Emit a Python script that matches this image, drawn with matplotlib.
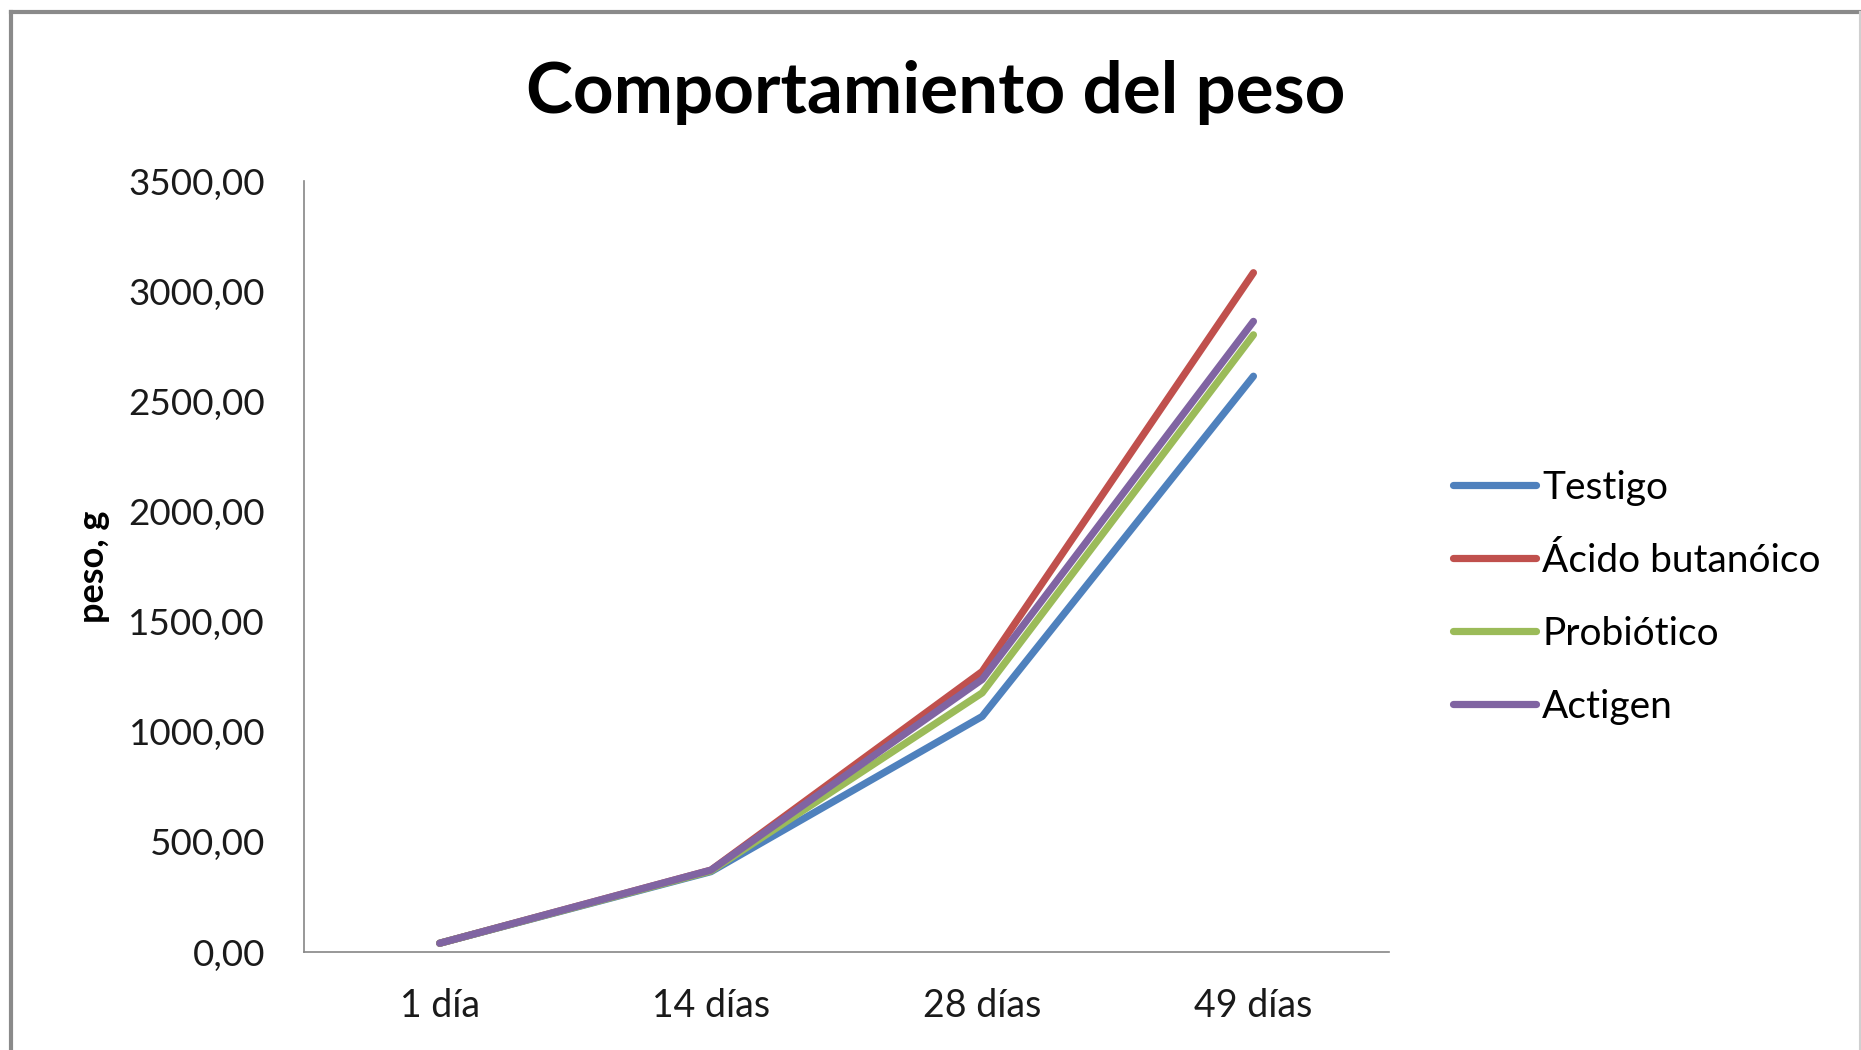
import matplotlib
matplotlib.use("Agg")
import matplotlib.pyplot as plt
from matplotlib.lines import Line2D
from matplotlib.ticker import FuncFormatter

plt.rcParams['font.family'] = ['Lato', 'DejaVu Sans']

# data
dias = ["1 día", "14 días", "28 días", "49 días"]
testigo = [40, 365, 1070, 2615]
acido = [40, 372, 1274, 3085]
probiotico = [40, 368, 1177, 2803]
actigen = [40, 372, 1238, 2864]

series = [
    ("Testigo", testigo, "#4F81BD"),
    ("Ácido butanóico", acido, "#C0504D"),
    ("Probiótico", probiotico, "#9BBB59"),
    ("Actigen", actigen, "#8064A2"),
]

fig = plt.figure(figsize=(18.61, 10.5), dpi=100)
ax = fig.add_axes([0.1634, 0.0933, 0.583, 0.734])

x = list(range(len(dias)))
for name, vals, col in series:
    ax.plot(x, vals, color=col, lw=5.2, label=name, solid_capstyle='round',
            solid_joinstyle='round')

ax.set_xlim(-0.5, 3.5)
ax.set_ylim(0, 3500)
ax.set_yticks(range(0, 3501, 500))
ax.yaxis.set_major_formatter(FuncFormatter(lambda v, p: f"{v:.2f}".replace(".", ",")))
ax.set_xticks(x)
ax.set_xticklabels(dias)

for s in ["top", "right"]:
    ax.spines[s].set_visible(False)
for s in ["left", "bottom"]:
    ax.spines[s].set_color("#868686")
    ax.spines[s].set_linewidth(1.2)

ax.tick_params(axis='y', length=0, pad=28, labelsize=26.5, labelcolor="#1a1a1a")
ax.tick_params(axis='x', length=0, pad=26, labelsize=27, labelcolor="#1a1a1a")

ax.set_ylabel("peso, g", fontsize=26, fontweight='bold')
ax.yaxis.set_label_coords(-0.179, 0.5)

fig.text(0.503, 0.912, "Comportamiento del peso", ha='center', va='center',
         fontsize=51, fontweight='bold')

fig.legend(loc='center left', bbox_to_anchor=(0.7810, 0.431), frameon=False,
           fontsize=28, handlelength=2.13, handletextpad=0.15, labelspacing=0.95,
           borderpad=0, borderaxespad=0)

# outer chart frame
bc = "#8a8a8a"
fig.add_artist(Line2D([0.0059, 0.0059], [0.0, 0.9886], color=bc, lw=3, transform=fig.transFigure))
fig.add_artist(Line2D([0.0059, 0.999], [0.9886, 0.9886], color=bc, lw=3, transform=fig.transFigure))
fig.add_artist(Line2D([0.9992, 0.9992], [0.0, 0.9886], color="#d0d0d0", lw=1.5, transform=fig.transFigure))

fig.savefig("out.png", dpi=100)
